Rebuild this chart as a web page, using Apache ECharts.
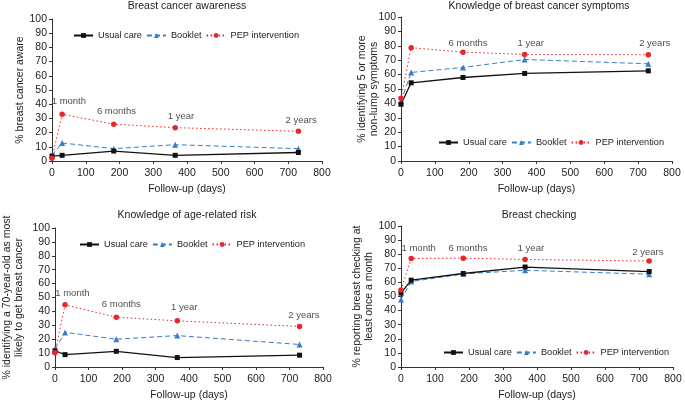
<!DOCTYPE html>
<html>
<head>
<meta charset="utf-8">
<style>
  html, body { margin: 0; padding: 0; background: #fff; }
  #main { width: 685px; height: 402px; }
</style>
<script src="https://cdn.jsdelivr.net/npm/echarts@6/dist/echarts.min.js"></script>
</head>
<body>
<div id="main"></div>
<script>
// follow-up days
const days = [0, 30, 183, 365, 730];
const seriesNames = ['Usual care', 'Booklet', 'PEP intervention'];

// Breast cancer awareness
const awareUsual = [3.5, 4, 7, 4, 6];
const awareBooklet = [4, 12.7, 8.7, 11.5, 8.7];
const awarePep = [2, 32.9, 25.9, 23.5, 20.9];

// Knowledge of breast cancer symptoms
const symptUsual = [39.4, 54.3, 58, 60.8, 62.6];
const symptBooklet = [41.5, 61.5, 65, 70.5, 67.5];
const symptPep = [43.5, 78.7, 75.6, 74, 73.8];

// Knowledge of age-related risk
const ageUsual = [11.7, 8.9, 11.3, 6.8, 8.5];
const ageBooklet = [12.9, 24.9, 20, 22.6, 16.2];
const agePep = [10.3, 44.7, 35.8, 33.2, 29.2];

// Breast checking
const checkUsual = [52.4, 61.6, 66.3, 70.9, 67.7];
const checkBooklet = [47.8, 60.6, 66, 68.6, 65.8];
const checkPep = [54.6, 77, 77.2, 76.3, 75.1];

const titles = ['Breast cancer awareness', 'Knowledge of breast cancer symptoms',
  'Knowledge of age-related risk', 'Breast checking'];
const yNames = ['% breast cancer aware',
  '% identifying 5 or more\nnon-lump symptoms',
  '% identifying a 70-year-old as most\nlikely to get breast cancer',
  '% reporting breast checking at\nleast once a month'];
const noteTexts = ['1 month', '6 months', '1 year', '2 years'];

const panels = [
  { usual: awareUsual, booklet: awareBooklet, pep: awarePep },
  { usual: symptUsual, booklet: symptBooklet, pep: symptPep },
  { usual: ageUsual, booklet: ageBooklet, pep: agePep },
  { usual: checkUsual, booklet: checkBooklet, pep: checkPep }
];

// layout (px)
const grids = [
  { left: 52, top: 19, width: 270, height: 142 },
  { left: 401, top: 17, width: 271, height: 144 },
  { left: 52, top: 228, width: 271, height: 142 },
  { left: 401, top: 226, width: 272, height: 143 }
];
const titlePos = [[187, 1], [539, 1], [187, 210], [539, 210]];
const nameGaps = [26, 21, 30, 26];
const legendPos = [[73, 31], [438, 138], [79, 240], [443, 348]];
// annotation anchors [day, value] per panel; null = not shown
const notePos = [
  [[50, 41.8], [191, 34.7], [382, 31.2], [738, 28.9]],
  [null, [198, 81.7], [383, 82], [749, 82]],
  [[52, 53.3], [198, 45], [386, 43], [743, 37]],
  [[52, 84], [197, 84], [382, 84], [726, 81.5]]
];

const font = 'Liberation Sans, Arial, sans-serif';
const txt = { fontFamily: font, fontSize: 10.5, color: '#222' };

const zip = arr => days.map((d, i) => [d, arr[i]]);

let chart = echarts.init(document.getElementById('main'), null, { renderer: 'canvas' });

let option = {
  backgroundColor: '#fff',
  animation: false,
  title: titles.map((t, i) => ({
    text: t,
    left: titlePos[i][0],
    top: titlePos[i][1],
    padding: 0,
    textAlign: 'center',
    textStyle: { fontFamily: font, fontSize: 10.5, fontWeight: 'normal', color: '#222' }
  })),
  legend: legendPos.map(p => ({
    data: seriesNames,
    left: p[0],
    top: p[1],
    width: 300,
    padding: 0,
    itemWidth: 19,
    itemHeight: 6,
    itemGap: 4,
    textStyle: { fontFamily: font, fontSize: 9.2, color: '#222' },
    selectedMode: false
  })),
  grid: grids,
  xAxis: grids.map((g, i) => ({
    type: 'value',
    gridIndex: i,
    min: 0, max: 800, interval: 100,
    name: 'Follow-up (days)',
    nameLocation: 'middle',
    nameGap: 23,
    nameMoveOverlap: false,
    nameTextStyle: { fontFamily: font, fontSize: 10.5, color: '#222' },
    axisLine: { show: true, lineStyle: { color: '#333', width: 1 } },
    axisTick: { show: true, length: 3, lineStyle: { color: '#333' } },
    axisLabel: Object.assign({ margin: 7 }, txt),
    splitLine: { show: false }
  })),
  yAxis: grids.map((g, i) => ({
    type: 'value',
    gridIndex: i,
    min: 0, max: 100, interval: 10,
    name: yNames[i],
    nameLocation: 'middle',
    nameGap: nameGaps[i],
    nameRotate: 90,
    nameMoveOverlap: false,
    nameTextStyle: { fontFamily: font, fontSize: 10.5, color: '#222', lineHeight: 12 },
    axisLine: { show: true, lineStyle: { color: '#333', width: 1 } },
    axisTick: { show: true, length: 3, lineStyle: { color: '#333' } },
    axisLabel: Object.assign({ margin: 5 }, txt),
    splitLine: { show: false }
  })),
  series: []
};

panels.forEach((p, i) => {
  option.series.push({
    name: 'Usual care', type: 'line', xAxisIndex: i, yAxisIndex: i,
    data: zip(p.usual), symbol: 'rect', symbolSize: 5,
    lineStyle: { color: '#111', width: 1.3, type: 'solid' },
    itemStyle: { color: '#111' }, z: 4
  });
  option.series.push({
    name: 'Booklet', type: 'line', xAxisIndex: i, yAxisIndex: i,
    data: zip(p.booklet), symbol: 'triangle', symbolSize: 6,
    lineStyle: { color: '#3b7cc4', width: 1, type: [5, 3] },
    itemStyle: { color: '#3b7cc4' }, z: 3
  });
  option.series.push({
    name: 'PEP intervention', type: 'line', xAxisIndex: i, yAxisIndex: i,
    data: zip(p.pep), symbol: 'circle', symbolSize: 5.5,
    lineStyle: { color: '#e8262b', width: 1, type: [1.5, 2.5] },
    itemStyle: { color: '#e8262b' }, z: 5
  });
  // time-point labels
  let notes = [];
  notePos[i].forEach((pos, k) => {
    if (pos) notes.push({ value: [pos[0], pos[1]], label: { formatter: noteTexts[k] } });
  });
  option.series.push({
    name: 'notes', type: 'scatter', xAxisIndex: i, yAxisIndex: i,
    data: notes, symbolSize: 0, silent: true,
    label: { show: true, position: 'inside', fontFamily: font, fontSize: 9.5, color: '#222' }
  });
});

chart.setOption(option);
</script>
</body>
</html>
